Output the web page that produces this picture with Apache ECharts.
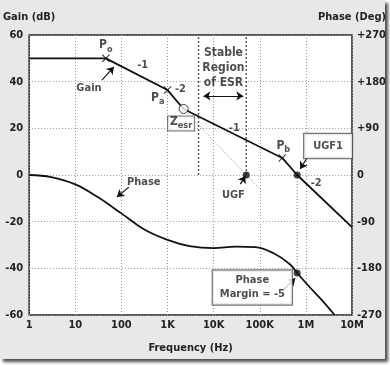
<!DOCTYPE html>
<html><head><meta charset="utf-8">
<script src="https://cdn.jsdelivr.net/npm/echarts@6/dist/echarts.min.js"></script>
<style>
html,body{margin:0;padding:0;background:#fff;}
#panel{position:absolute;left:0;top:0;width:385px;height:359px;background:#e8e8e8;box-shadow:3px 3px 3px rgba(0,0,0,0.7);}
#chart{position:absolute;left:0;top:0;width:390px;height:365px;}
</style></head><body>
<div id="panel"></div><div id="chart"></div>
<script>
const FONT = '"DejaVu Sans Condensed","Liberation Sans Narrow","Liberation Sans",Arial,sans-serif';
const TXT = '#222';
const FS = 11;

// axis ticks
const freqTickLabels = ['1','10','100','1K','10K','100K','1M','10M'];
const gainRange = [-60, 60, 20];
const phaseRange = [-270, 270, 90];

// gain curve (Hz, dB)
const gainFreq = [1, 46, 1000, 2230, 307000, 647000, 1e7];
const gainDb   = [50, 50, 36.4, 28.3, 7.3, 0, -22.3];

// phase curve (Hz, deg)
const phaseFreq = [1, 3, 10, 30, 100, 300, 1000, 3000, 10000, 30000, 80000, 200000, 450000, 647000, 1200000, 2200000, 4200000];
const phaseDeg  = [0, -4, -18, -42, -74, -104, -125, -137, -141, -138, -139, -151, -172, -189, -216, -241, -270];

// dotted -2 extension from Zesr through UGF
const extFreq = [2230, 51000, 113000];
const extDb   = [28.3, 0, -7];

// stable region bounds (Hz) and vertical extent (dB)
const stableFreq = [4700, 51000];
const stableDb = [59, 0];

// UGF1 drop line (dB)
const ugf1Freq = 647000;
const ugf1DropDb = [0, -42];

// markers
const crossFreq = [46, 1000, 307000];
const crossDb   = [50, 36.4, 7.3];
const zesrPoint = [2230, 28.3];
const dotFreq = [51000, 647000];
const dotDb   = [0, 0];
const pmPoint = [647000, -189];

// text annotations (Hz, dB)
const annoText = ['{m|P}{s|o}', 'Gain', '-1', '{n|-2}', '{m|P}{s|a}', '-1', '{m|P}{s|b}', '-2', 'UGF', 'Phase'];
const annoFreq = [46, 19.8, 290, 1900, 612, 28000, 323000, 1670000, 26800, 305];
const annoDb   = [55, 37.3, 47.1, 36.9, 32.6, 20.1, 12, -3.4, -8.6, -3];

// boxed annotations
const boxText = ['{m|Z}{s|esr}', 'UGF1', 'Phase\nMargin = -5'];
const boxFreq = [1970, 3030000, 69000];
const boxDb   = [22.1, 12.4, -48.2];

const stableText = 'Stable\nRegion\nof ESR';
const stablePos = [16300, 45.9];

// arrows [from, to] (Hz, dB)
const arrows = [
  [[37.8, 40.7], [68.6, 46.3]],
  [[1060000, 7.3], [752000, 2.6]],
  [[38000, -3.9], [48700, -0.4]],
  [[145, -5.2], [80, -9.4]],
  [[323000, -49.3], [587000, -44.2]]
];
const doubleArrow = [[6000, 33.9], [44000, 33.9]];

const zip = (a, b) => a.map((v, i) => [v, b[i]]);

const chart = echarts.init(document.getElementById('chart'), null, {renderer: 'canvas'});

const rich = {
  m: {fontFamily: FONT, fontWeight: 'bold', fontSize: 12, color: TXT, verticalAlign: 'bottom', padding: [0, 0, 3, 0]},
  s: {fontFamily: FONT, fontWeight: 'bold', fontSize: 9, color: TXT, verticalAlign: 'bottom'},
  n: {fontFamily: FONT, fontWeight: 'bold', fontSize: FS, color: TXT}
};

const labelSeries = {
  type: 'scatter', symbolSize: 1, itemStyle: {color: 'rgba(0,0,0,0)'}, silent: true, z: 10,
  data: annoText.map((t, i) => ({value: [annoFreq[i], annoDb[i]], label: {formatter: t}})),
  label: {show: true, position: 'inside', fontFamily: FONT, fontWeight: 'bold', fontSize: FS, color: TXT, rich: rich}
};

const boxSeries = {
  type: 'scatter', symbolSize: 1, itemStyle: {color: 'rgba(0,0,0,0)'}, silent: true, z: 11,
  data: boxText.map((t, i) => ({value: [boxFreq[i], boxDb[i]], label: {formatter: t,
    padding: i === 0 ? [0, 2, 0, 2] : (i === 1 ? [5, 9, 5, 9] : [3, 7, 3, 7]),
    borderWidth: i === 0 ? 1 : 1.2}})),
  label: {show: true, position: 'inside', fontFamily: FONT, fontWeight: 'bold', fontSize: FS, lineHeight: 14, color: TXT,
    backgroundColor: '#fff', borderColor: '#555', align: 'center', rich: rich}
};

const stableSeries = {
  type: 'scatter', symbolSize: 1, itemStyle: {color: 'rgba(0,0,0,0)'}, silent: true, z: 10,
  data: [stablePos],
  label: {show: true, position: 'inside', formatter: stableText, fontFamily: FONT, fontWeight: 'bold', fontSize: 12, lineHeight: 15, color: TXT, align: 'center'}
};

const arrowMarks = arrows.map(a => [{coord: a[0], symbol: 'none'}, {coord: a[1], symbol: 'arrow'}]);
arrowMarks.push([{coord: doubleArrow[0], symbol: 'arrow'}, {coord: doubleArrow[1], symbol: 'arrow'}]);

const axisText = {fontFamily: FONT, fontWeight: 'bold', fontSize: FS, color: TXT};

const option = {
  animation: false,
  backgroundColor: 'transparent',
  grid: {left: 28, right: 38, top: 35, bottom: 50, show: true, backgroundColor: '#fff', borderColor: '#222', borderWidth: 1.5},
  xAxis: {
    type: 'log', logBase: 10, min: 1, max: 1e7,
    name: 'Frequency (Hz)', nameLocation: 'middle', nameGap: 28,
    nameTextStyle: axisText,
    axisLine: {show: false}, axisTick: {show: false},
    axisLabel: Object.assign({margin: 5, formatter: v => freqTickLabels[Math.round(Math.log10(v))]}, axisText),
    splitLine: {show: true, lineStyle: {color: '#999', type: [1, 2], width: 1}}
  },
  yAxis: [{
    type: 'value', min: gainRange[0], max: gainRange[1], interval: gainRange[2],
    name: 'Gain (dB)', nameLocation: 'end', nameGap: 12,
    nameTextStyle: Object.assign({align: 'center'}, axisText),
    axisLine: {show: false}, axisTick: {show: false},
    axisLabel: Object.assign({margin: 6}, axisText),
    splitLine: {show: true, lineStyle: {color: '#999', type: [1, 2], width: 1}}
  }, {
    type: 'value', min: phaseRange[0], max: phaseRange[1], interval: phaseRange[2], position: 'right',
    name: 'Phase (Deg)', nameLocation: 'end', nameGap: 12,
    nameTextStyle: Object.assign({align: 'center'}, axisText),
    axisLine: {show: false}, axisTick: {show: false},
    axisLabel: Object.assign({margin: 5, formatter: v => (v > 0 ? '+' + v : '' + v)}, axisText),
    splitLine: {show: false}
  }],
  series: [
    {type: 'line', data: zip(gainFreq, gainDb), symbol: 'none', lineStyle: {color: '#111', width: 1.8}, z: 5,
      markLine: {silent: true, symbolSize: 7, label: {show: false}, lineStyle: {color: '#111', width: 1.2, type: 'solid'},
        emphasis: {disabled: true}, data: arrowMarks}},
    {type: 'line', yAxisIndex: 1, data: zip(phaseFreq, phaseDeg), symbol: 'none', smooth: 0.4, lineStyle: {color: '#111', width: 1.8}, z: 5},
    {type: 'line', data: zip(extFreq, extDb), symbol: 'none', lineStyle: {color: '#888', width: 1, type: [1, 2]}, z: 3},
    {type: 'line', data: [[stableFreq[0], stableDb[0]], [stableFreq[0], stableDb[1]]], symbol: 'none', lineStyle: {color: '#222', width: 1.5, type: [1.5, 2.5]}, z: 3},
    {type: 'line', data: [[stableFreq[1], stableDb[0]], [stableFreq[1], stableDb[1]]], symbol: 'none', lineStyle: {color: '#222', width: 1.5, type: [1.5, 2.5]}, z: 3},
    {type: 'line', data: [[ugf1Freq, ugf1DropDb[0]], [ugf1Freq, ugf1DropDb[1]]], symbol: 'none', lineStyle: {color: '#888', width: 1, type: [1, 2]}, z: 3},
    {type: 'scatter', data: zip(crossFreq, crossDb), symbol: 'path://M0,1L1,0L5,4L9,0L10,1L6,5L10,9L9,10L5,6L1,10L0,9L4,5Z', symbolSize: 8, itemStyle: {color: '#111'}, z: 6},
    {type: 'scatter', data: [zesrPoint], symbol: 'circle', symbolSize: 9, itemStyle: {color: '#fff', borderColor: '#111', borderWidth: 1}, z: 6},
    {type: 'scatter', data: zip(dotFreq, dotDb), symbol: 'circle', symbolSize: 7, itemStyle: {color: '#111'}, z: 6},
    {type: 'scatter', yAxisIndex: 1, data: [pmPoint], symbol: 'circle', symbolSize: 7, itemStyle: {color: '#111'}, z: 6},
    labelSeries, boxSeries, stableSeries
  ]
};
chart.setOption(option);
</script>
</body></html>
